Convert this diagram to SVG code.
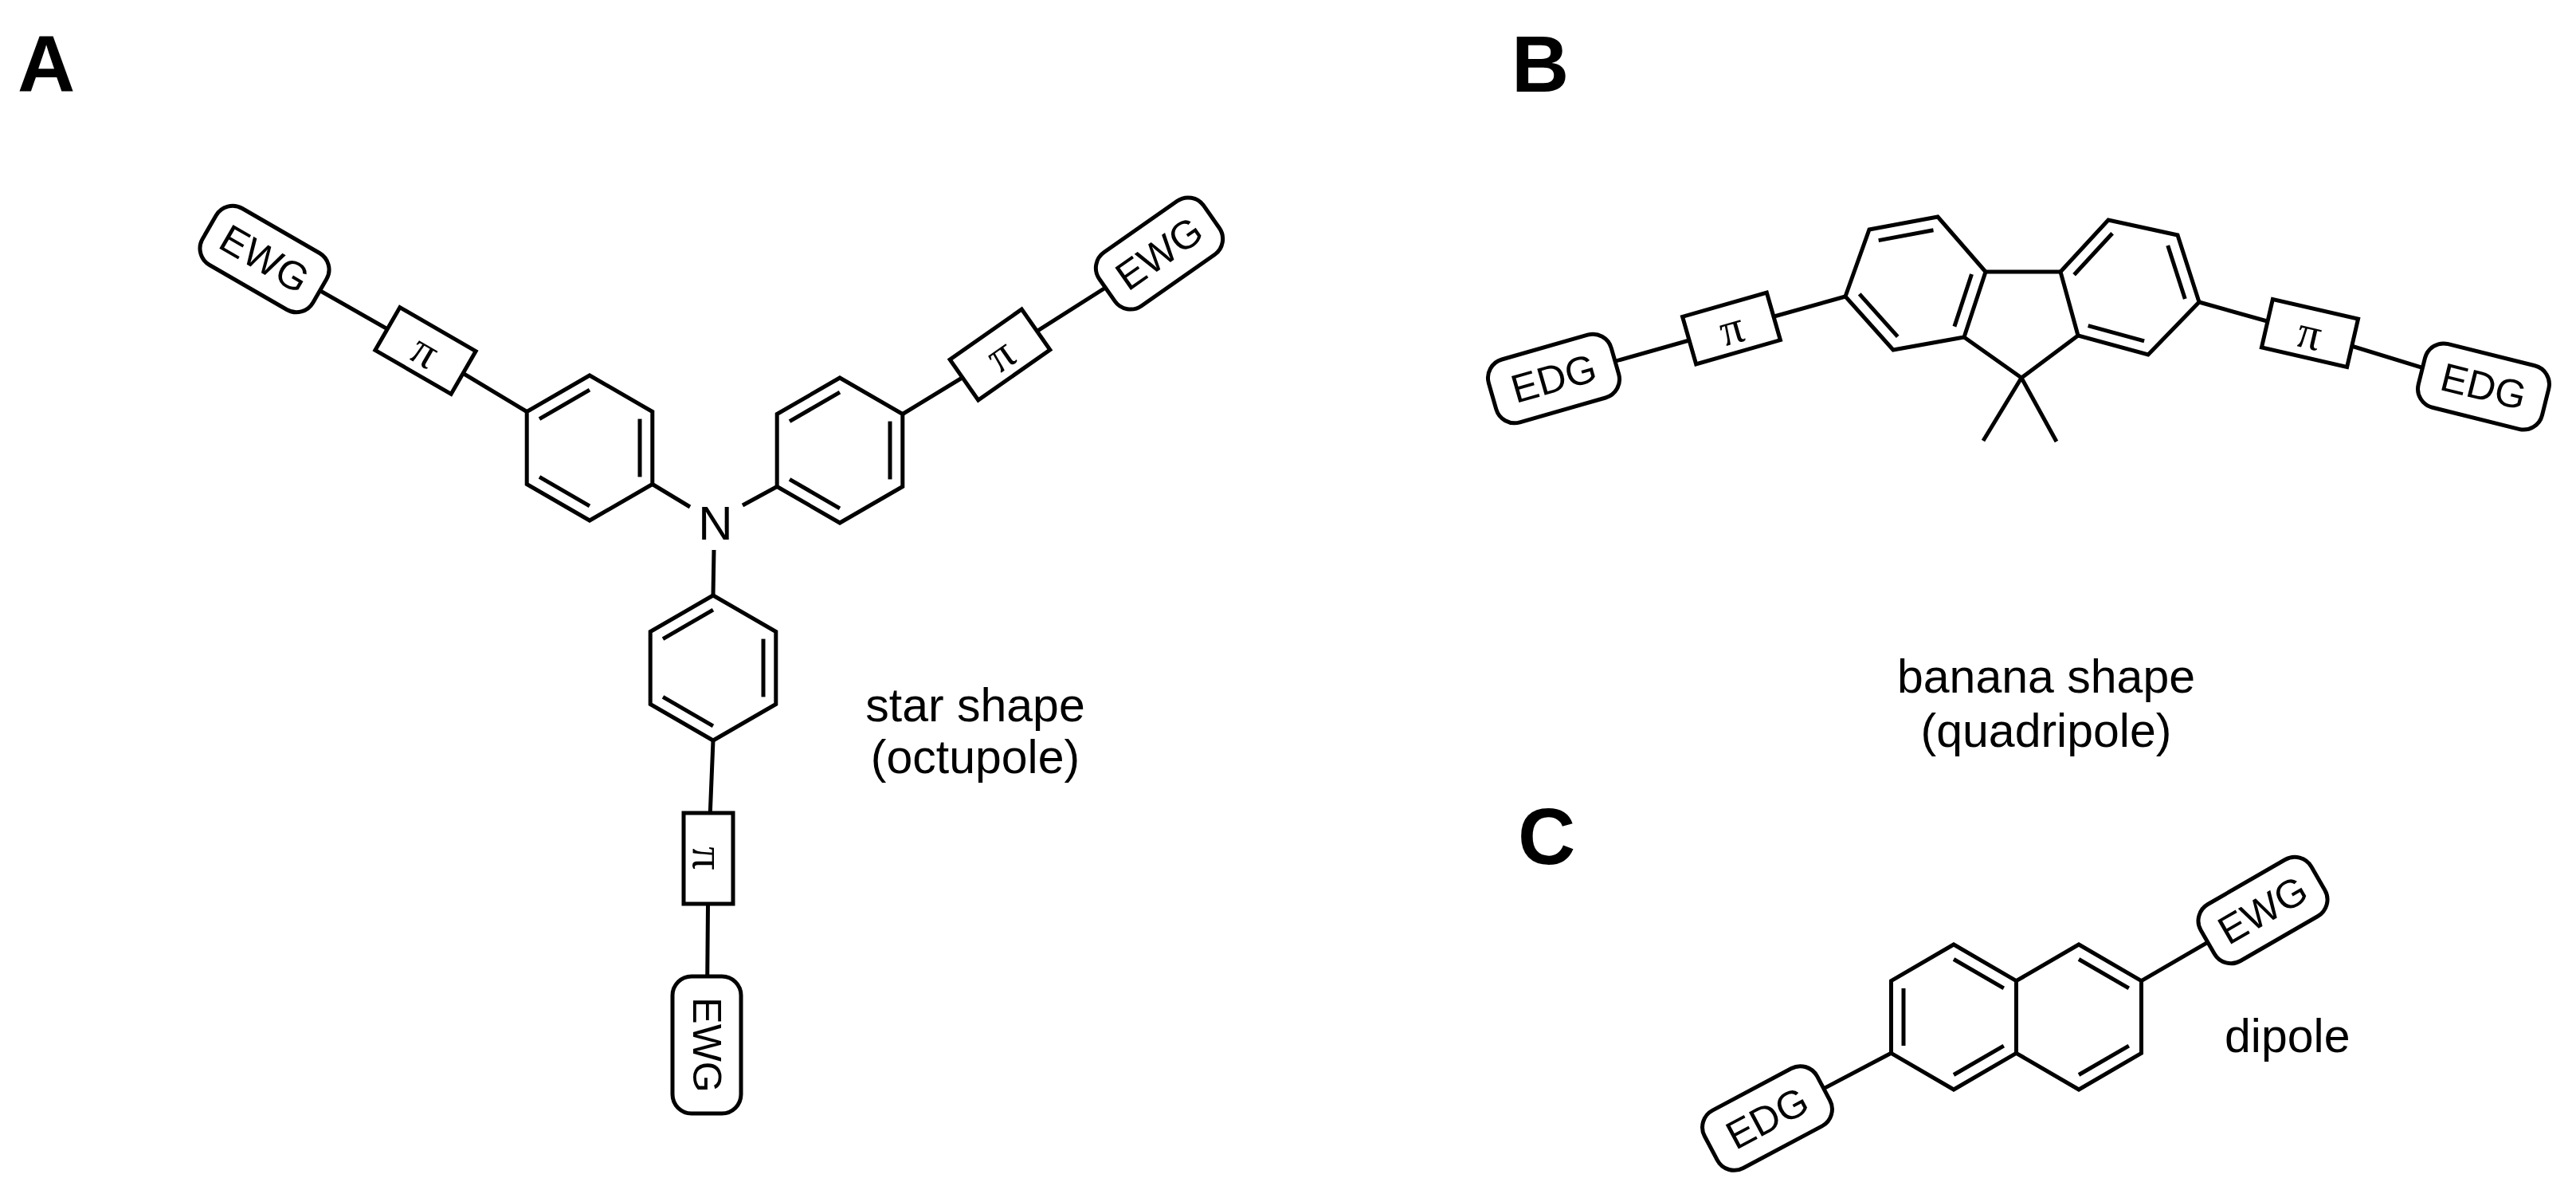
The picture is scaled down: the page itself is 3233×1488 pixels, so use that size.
<svg xmlns="http://www.w3.org/2000/svg" xmlns:xlink="http://www.w3.org/1999/xlink" width="3233" height="1488" viewBox="0 0 3233 1488">
<style>
.b{fill:none;stroke:#000;stroke-width:5;stroke-linejoin:miter;stroke-linecap:butt}
.box{fill:#fff;stroke:#000;stroke-width:5}
.lbl{font-family:"Liberation Sans",Arial,sans-serif;font-size:50px;text-anchor:middle;dominant-baseline:central}
.pi{font-family:"Liberation Serif","Times New Roman",serif;font-size:58px;text-anchor:middle;dominant-baseline:central}
.cap{font-family:"Liberation Sans",Arial,sans-serif;font-size:59px;text-anchor:middle}
.pl{font-family:"Liberation Sans",Arial,sans-serif;font-size:100px;font-weight:bold}
.at{font-family:"Liberation Sans",Arial,sans-serif;font-size:60px;text-anchor:middle}
</style>
<defs>
<g id="benz" class="b">
<polygon points="0,-91 78.8,-45.5 78.8,45.5 0,91 -78.8,45.5 -78.8,-45.5"/>
<line x1="-63" y1="-36.4" x2="0" y2="-72.8"/>
<line x1="63" y1="-36.4" x2="63" y2="36.4"/>
<line x1="0" y1="72.8" x2="-63" y2="36.4"/>
</g>
</defs>
<rect width="3233" height="1488" fill="#fff"/>
<g id="connectors" class="b">
<polyline points="661.2,516.5 534,440 332,325"/>
<polyline points="1132.8,519.5 1255,445 1455,318"/>
<polyline points="895,929 889,1077 887,1311"/>
<line x1="818.8" y1="607.5" x2="866" y2="636"/>
<line x1="975.2" y1="610.5" x2="932" y2="634"/>
<line x1="895" y1="747" x2="896" y2="690"/>
<polyline points="2316,372 2173,412 1950,475"/>
<polyline points="2760,379 2899,418 3117,485"/>
<line x1="2373.5" y1="1321.3" x2="2218" y2="1403"/>
<line x1="2687.5" y1="1230.7" x2="2840" y2="1142"/>
</g>
<g id="labels">
<text class="pl" x="22" y="115">A</text>
<text class="pl" x="1897" y="115">B</text>
<text class="pl" x="1905" y="1084">C</text>
</g>
<g id="ringA1"><use xlink:href="#benz" href="#benz" transform="translate(740,562)"/></g>
<g id="ringA2"><use xlink:href="#benz" href="#benz" transform="translate(1054,565)"/></g>
<g id="ringA3"><use xlink:href="#benz" href="#benz" transform="translate(895,838)"/></g>
<g id="N"><text class="at" x="898" y="677">N</text></g>
<g id="piA1" transform="translate(534,440) rotate(30)"><rect class="box" x="-55" y="-31" width="110" height="62"/><text class="pi">π</text></g>
<g id="ewgA1" transform="translate(332,325) rotate(30)"><rect class="box" x="-80" y="-41" width="160" height="82" rx="24"/><text class="lbl">EWG</text></g>
<g id="piA2" transform="translate(1255,445) rotate(-35)"><rect class="box" x="-55" y="-31" width="110" height="62"/><text class="pi">π</text></g>
<g id="ewgA2" transform="translate(1455,318) rotate(-35)"><rect class="box" x="-80" y="-41" width="160" height="82" rx="24"/><text class="lbl">EWG</text></g>
<g id="piA3" transform="translate(889,1077) rotate(90)"><rect class="box" x="-57" y="-31" width="114" height="62"/><text class="pi">π</text></g>
<g id="ewgA3" transform="translate(887,1311) rotate(90)"><rect class="box" x="-86" y="-43" width="172" height="86" rx="24"/><text class="lbl">EWG</text></g>
<g id="textA"><text class="cap" x="1224" y="905">star shape</text><text class="cap" x="1224" y="970">(octupole)</text></g>
<g id="fluorene" class="b">
<polygon points="2492,341 2432,272 2346,288 2316,372 2376,439 2465,423"/>
<polygon points="2586,341 2646,276 2733,295 2760,379 2696,445 2608,421"/>
<line x1="2492" y1="341" x2="2586" y2="341"/>
<polyline points="2465,423 2537,474 2608,421"/>
<line x1="2537" y1="474" x2="2489" y2="553"/>
<line x1="2537" y1="474" x2="2581" y2="554"/>
<line x1="2426.5" y1="288.8" x2="2357.7" y2="301.6"/>
<line x1="2333.7" y1="368.8" x2="2381.7" y2="422.4"/>
<line x1="2452.9" y1="409.6" x2="2474.5" y2="344"/>
<line x1="2603.1" y1="344.7" x2="2651.1" y2="292.7"/>
<line x1="2720.7" y1="307.9" x2="2742.3" y2="375.1"/>
<line x1="2691.1" y1="427.9" x2="2620.7" y2="408.7"/>
</g>
<g id="piB1" transform="translate(2173,412) rotate(-16)"><rect class="box" x="-55" y="-31" width="110" height="62"/><text class="pi">π</text></g>
<g id="edgB1" transform="translate(1950,475) rotate(-16)"><rect class="box" x="-80" y="-41" width="160" height="82" rx="24"/><text class="lbl">EDG</text></g>
<g id="piB2" transform="translate(2899,418) rotate(13)"><rect class="box" x="-55" y="-31" width="110" height="62"/><text class="pi">π</text></g>
<g id="edgB2" transform="translate(3117,485) rotate(14)"><rect class="box" x="-80" y="-41" width="160" height="82" rx="24"/><text class="lbl">EDG</text></g>
<g id="textB"><text class="cap" x="2568" y="869">banana shape</text><text class="cap" x="2568" y="937">(quadripole)</text></g>
<g id="naphthalene" class="b">
<polygon points="2452,1185 2530.5,1230.7 2530.5,1321.3 2452,1367 2373.5,1321.3 2373.5,1230.7"/>
<polyline points="2530.5,1230.7 2609,1185 2687.5,1230.7 2687.5,1321.3 2609,1367 2530.5,1321.3"/>
<line x1="2389" y1="1240" x2="2389" y2="1312"/>
<line x1="2452" y1="1203.5" x2="2514.8" y2="1239.8"/>
<line x1="2452" y1="1348.5" x2="2514.8" y2="1312.2"/>
<line x1="2609" y1="1203.5" x2="2671.8" y2="1239.8"/>
<line x1="2671.8" y1="1312.2" x2="2609" y2="1348.5"/>
</g>
<g id="ewgC" transform="translate(2840,1142) rotate(-30)"><rect class="box" x="-80" y="-41" width="160" height="82" rx="24"/><text class="lbl">EWG</text></g>
<g id="edgC" transform="translate(2218,1403) rotate(-28)"><rect class="box" x="-80" y="-41" width="160" height="82" rx="24"/><text class="lbl">EDG</text></g>
<g id="textC"><text class="cap" x="2792" y="1320" style="text-anchor:start">dipole</text></g>
</svg>
